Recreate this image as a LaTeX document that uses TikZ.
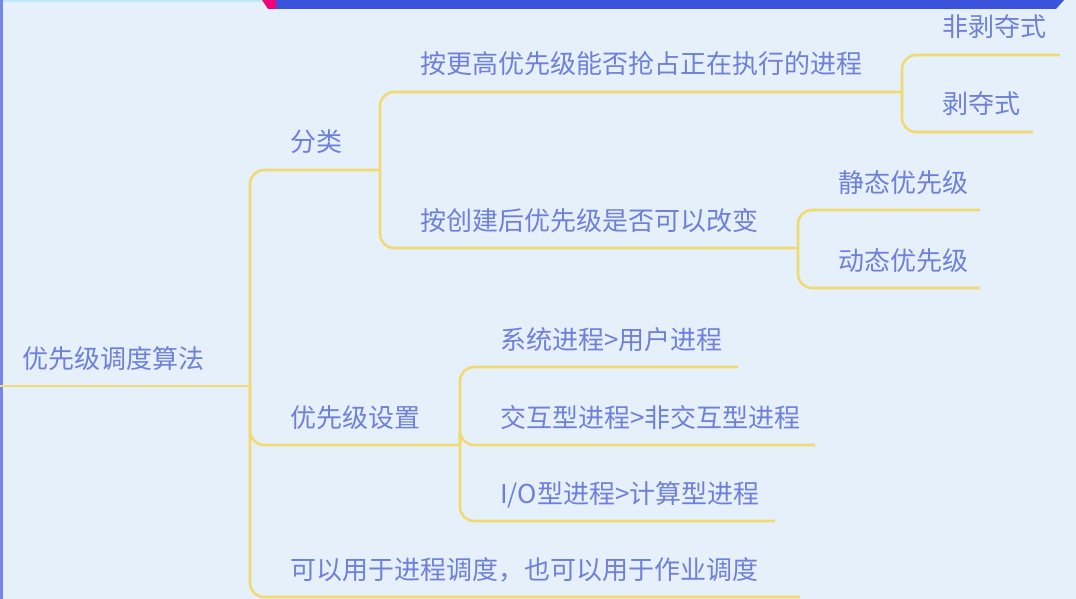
\documentclass[tikz,border=0pt]{standalone}
\usepackage{fontspec}
\newfontfamily\cjk{Noto Sans CJK SC}
\usetikzlibrary{calc}
\definecolor{bgblue}{HTML}{E6F0FA}
\definecolor{txtblue}{HTML}{6E80DA}
\definecolor{lineyel}{HTML}{F2DA72}
\definecolor{barblue}{HTML}{3A52DC}
\tikzset{
  lbl/.style={anchor=base west, inner sep=0pt, text=txtblue,
    font=\cjk\fontsize{26}{30}\selectfont},
  branch/.style={draw=lineyel, line width=2.6pt, rounded corners=14pt},
}

\begin{document}
\begin{tikzpicture}[x=1pt,y=-1pt]
    \fill[bgblue] (0,0) rectangle (1076,599);
    \useasboundingbox (0,0) rectangle (1076,599);
    % top strip and left edge
    \fill[barblue] (272,0) -- (1064,0) -- (1056,9) -- (272,9) -- cycle;
    \fill[magenta!80!red] (262,0) -- (276,0) -- (276,9) -- (268,9) -- cycle;
    \draw[cyan!25, line width=2pt] (0,1) -- (262,1);
    \fill[barblue!70] (0,0) rectangle (2.5,599);
    % root
    \coordinate (root-l) at (0,386);
    \coordinate (root-r) at (250,386);
    \node[lbl] (root) at (22,368) {优先级调度算法};
    \draw[branch] (root-l) -- (root-r);
    % first level
    \coordinate (fenlei-r) at (380,170);
    \node[lbl] (fenlei) at (290,152) {分类};
    \coordinate (shezhi-r) at (460,445);
    \node[lbl] (shezhi) at (290,427) {优先级设置};
    \coordinate (yongyu-r) at (800,597);
    \node[lbl] (yongyu) at (290,579) {可以用于进程调度，也可以用于作业调度};
    \draw[branch] (root-r) |- (fenlei-r);
    \draw[branch] (root-r) |- (shezhi-r);
    \draw[branch] (root-r) |- (yongyu-r);
    % second level
    \coordinate (qiangzhan-r) at (902,92);
    \node[lbl] (qiangzhan) at (420,74) {按更高优先级能否抢占正在执行的进程};
    \coordinate (gaibian-r) at (798,248);
    \node[lbl] (gaibian) at (420,230) {按创建后优先级是否可以改变};
    \draw[branch] (fenlei-r) |- (qiangzhan-r);
    \draw[branch] (fenlei-r) |- (gaibian-r);
    \coordinate (xitong-r) at (738,367);
    \node[lbl] (xitong) at (500,349) {系统进程>用户进程};
    \coordinate (jiaohu-r) at (815,445);
    \node[lbl] (jiaohu) at (500,427) {交互型进程>非交互型进程};
    \coordinate (io-r) at (775,521);
    \node[lbl] (io) at (500,503) {I/O型进程>计算型进程};
    \draw[branch] (shezhi-r) |- (xitong-r);
    \draw[branch] (shezhi-r) |- (jiaohu-r);
    \draw[branch] (shezhi-r) |- (io-r);
    % third level
    \coordinate (feibo-r) at (1060,55);
    \node[lbl] (feibo) at (942,37) {非剥夺式};
    \coordinate (bo-r) at (1033,132);
    \node[lbl] (bo) at (942,114) {剥夺式};
    \draw[branch] (qiangzhan-r) |- (feibo-r);
    \draw[branch] (qiangzhan-r) |- (bo-r);
    \coordinate (jingtai-r) at (980,210);
    \node[lbl] (jingtai) at (838,192) {静态优先级};
    \coordinate (dongtai-r) at (980,288);
    \node[lbl] (dongtai) at (838,270) {动态优先级};
    \draw[branch] (gaibian-r) |- (jingtai-r);
    \draw[branch] (gaibian-r) |- (dongtai-r);
\end{tikzpicture}
\end{document}
